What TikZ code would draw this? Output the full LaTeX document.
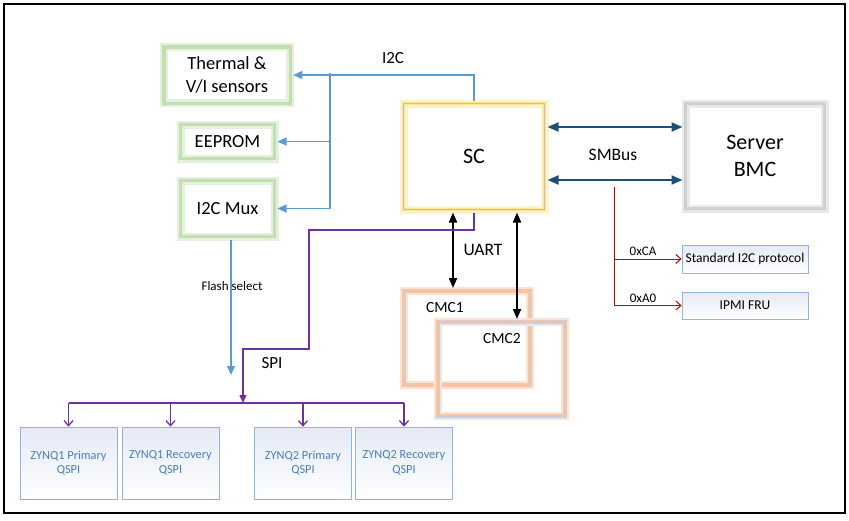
\documentclass[tikz,border=0pt]{standalone}
\usepackage{fontspec}
\setmainfont{Carlito}
\usetikzlibrary{arrows.meta}

\definecolor{glowgreen}{HTML}{B9D9A4}
\definecolor{glowyellow}{HTML}{FFDF80}
\definecolor{glowgray}{HTML}{C8C8C8}
\definecolor{gloworange}{HTML}{F4B993}
\definecolor{i2cblue}{HTML}{5B9BD5}
\definecolor{smblue}{HTML}{1F4E79}
\definecolor{spipurple}{HTML}{7030A0}
\definecolor{fruborder}{HTML}{8EB4E3}
\definecolor{frufill}{HTML}{E4EAF5}
\definecolor{qspitext}{HTML}{4A7EBB}

\newcommand{\fs}[1]{\fontsize{#1}{1.2\dimexpr#1pt\relax}\selectfont}

\tikzset{
  glowbox/.style={draw=#1!85, line width=3.5pt, preaction={draw=#1!40, line width=8pt},
    outer sep=3pt, inner sep=0pt, align=center},
  thinline/.style={postaction={draw=#1, line width=0.4pt}},
  infobox/.style={draw=fruborder, line width=0.8pt, top color=frufill, bottom color=white,
    inner sep=0pt, align=center},
  i2cline/.style={draw=i2cblue, line width=1.2pt, -{Triangle[length=9pt,width=8pt]}},
  smbline/.style={draw=smblue, line width=2pt, {Triangle[length=11pt,width=9pt]}-{Triangle[length=11pt,width=9pt]}},
  uartline/.style={draw=black, line width=2pt, {Triangle[length=10pt,width=8pt]}-{Triangle[length=10pt,width=8pt]}},
  spiline/.style={draw=spipurple, line width=1.3pt},
  redline/.style={draw=red!75!black, line width=1pt, -{Straight Barb[length=5pt,width=9pt]}},
}

\begin{document}
\begin{tikzpicture}[x=1pt,y=-1pt]
\useasboundingbox (0,0) rectangle (849,520);
\draw[line width=1.5pt] (4,4) rectangle (845,513);

% left side: I2C devices
\node[glowbox=glowgreen, minimum width=126.5pt, minimum height=56.5pt, font=\fs{18.5}] (therm) at (227,75) {Thermal \&\\V/I sensors};
\node[glowbox=glowgreen, minimum width=94pt, minimum height=34pt, font=\fs{18.5}] (eeprom) at (227.5,141.5) {EEPROM};
\node[glowbox=glowgreen, minimum width=94pt, minimum height=56pt, font=\fs{18.5}] (mux) at (227.5,208.5) {I2C Mux};

% centre and right
\node[glowbox=glowyellow, thinline=gray!50, minimum width=141pt, minimum height=106pt, font=\fs{22}] (sc) at (474,156.5) {SC};
\node[glowbox=glowgray, minimum width=139pt, minimum height=105pt, font=\fs{22}] (bmc) at (755,156) {Server\\BMC};

\node[infobox, minimum width=126pt, minimum height=28pt, font=\fs{13.5}] (std) at (745,259) {Standard I2C protocol};
\node[infobox, minimum width=126pt, minimum height=27pt, font=\fs{13.5}] (fru) at (745,305.5) {IPMI FRU};

% CMC boxes
\node[glowbox=gloworange, thinline=fruborder!60, minimum width=126pt, minimum height=94pt] (cmc1) at (467,338) {};
\node[glowbox=gloworange, thinline=fruborder!60, minimum width=127pt, minimum height=94pt] (cmc2) at (501.5,369) {};
\node[font=\fs{15.5}] (cmc1txt) at (445,308) {CMC1};
\node[font=\fs{15.5}] (cmc2txt) at (502,339) {CMC2};

% QSPI flashes
\foreach \n/\x/\t in {z1/68.5/ZYNQ1 Primary, z2/170.5/ZYNQ1 Recovery, z3/303/ZYNQ2 Primary, z4/404/ZYNQ2 Recovery}
  \node[infobox, minimum width=97pt, minimum height=72pt, text=qspitext, font=\fs{12.3}] (\n) at (\x,463) {\t\\QSPI};

% I2C
\coordinate (i2cj) at (330,73);
\draw[i2cline] (sc.north) |- (therm.east);
\draw[i2cline] (i2cj) |- (eeprom.east);
\draw[i2cline] (i2cj) |- (mux.east);
\node[font=\fs{17}] (i2clbl) at (393,58) {I2C};

% flash select
\coordinate (fsend) at (231,375);
\draw[i2cline] (mux.south -| fsend) -- (fsend);
\node[font=\fs{13}] (fslbl) at (232,286) {Flash select};

% SMBus
\draw[smbline] (sc.east |- 0,127) -- (bmc.west |- 0,127);
\draw[smbline] (sc.east |- 0,180) -- (bmc.west |- 0,180);
\node[font=\fs{17.5}] (smblbl) at (613,155) {SMBus};

\coordinate (redtop) at (614,187);
\draw[redline] (redtop) |- (fru.west);
\draw[redline] (redtop |- std.west) -- (std.west);
\node[font=\fs{13}] (calbl) at (643,251) {0xCA};
\node[font=\fs{13}] (a0lbl) at (643,298) {0xA0};

% UART
\draw[uartline] (sc.south -| 453,0) -- (cmc1.north -| 453,0);
\draw[uartline] (sc.south -| 517,0) -- (cmc2.north -| 517,0);
\node[font=\fs{17.5}] (uartlbl) at (483,250) {UART};

% SPI
\coordinate (spi) at (243,403);
\draw[spiline, -{Triangle[length=8pt,width=7pt]}] (sc.south) -- ++(0,17.5) -| (309,349) -| (spi);
\draw[spiline] (z1.north |- spi) -- (z4.north |- spi);
\foreach \n in {z1,z2,z3,z4}
  \draw[spiline, -{Straight Barb[length=5pt,width=9pt]}] (\n.north |- spi) -- (\n.north);
\node[font=\fs{17}] (spilbl) at (272,363) {SPI};

\end{tikzpicture}
\end{document}
